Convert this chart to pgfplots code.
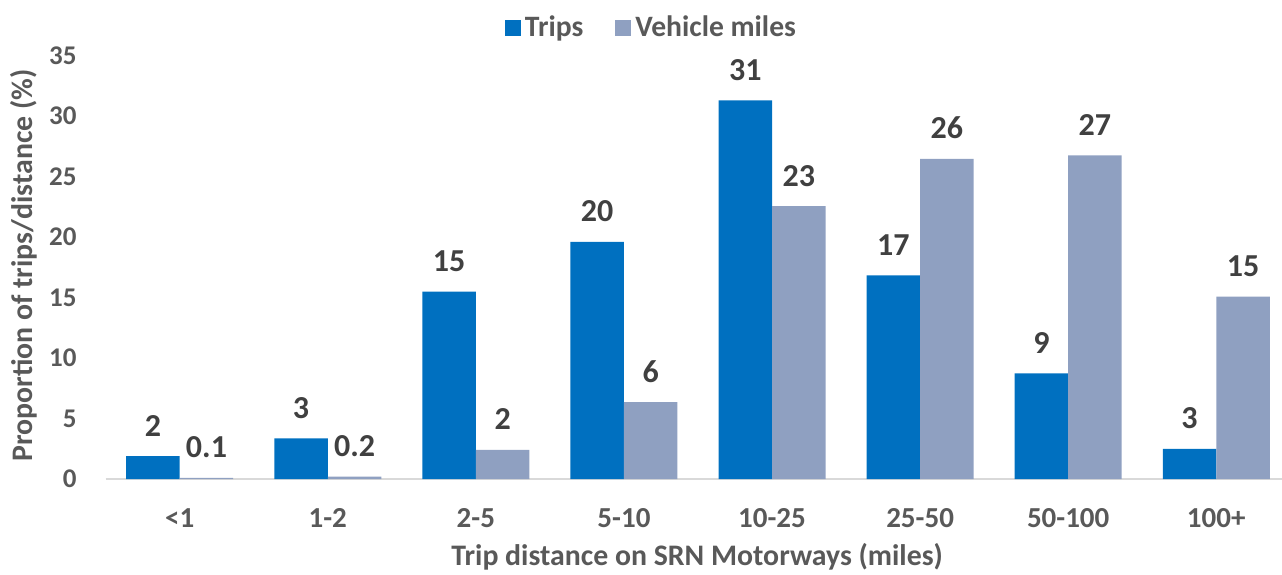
\documentclass[border=0pt]{standalone}
\usepackage{fontspec}
\setmainfont{Carlito}
\usepackage{pgfplots}
\pgfplotsset{compat=1.18}
\definecolor{tripc}{HTML}{0070C0}
\definecolor{vmc}{HTML}{8FA0C1}
\definecolor{tickc}{HTML}{595959}
\definecolor{lblc}{HTML}{404040}
\definecolor{axc}{HTML}{D9D9D9}
\begin{document}
\begin{tikzpicture}[font=\bfseries]
\begin{axis}[
  scale only axis, width=588.15pt, height=211.75pt,
  xmin=-0.5, xmax=7.444, ymin=0, ymax=35,
  axis x line*=bottom, axis y line*=left,
  x axis line style={draw=axc, line width=1pt, -},
  y axis line style={draw=none, -},
  major tick length=0pt,
  xtick={0,...,7},
  xticklabels={{<1},{1-2},{2-5},{5-10},{10-25},{25-50},{50-100},{100+}},
  ytick={0,5,...,35},
  /pgf/number format/assume math mode=true,
  xticklabel style={font=\bfseries\fontsize{14.5}{14.5}\selectfont, text=tickc, anchor=base, inner sep=0pt, yshift=-24pt},
  yticklabel style={font=\bfseries\fontsize{13.5}{13.5}\selectfont, text=tickc, anchor=east, inner sep=0pt, xshift=-14.35pt},
  clip=false,
  ybar=0pt, bar width=26.75pt,
  point meta=explicit symbolic,
  nodes near coords,
  every node near coord/.append style={font=\bfseries\fontsize{16}{16}\selectfont, text=lblc, anchor=base, inner sep=0pt, yshift=10pt},
  legend style={draw=none, fill=none, at={(rel axis cs:0.4648,1.066)}, anchor=center,
    legend columns=2, font=\bfseries\fontsize{14.8}{14.8}\selectfont, text=tickc,
    /tikz/every even column/.append style={column sep=14pt}},
  legend image code/.code={\fill[#1] (0pt,-4pt) rectangle (8pt,4pt);},
]
\addplot[fill=tripc, draw=none] coordinates {
  (0,1.9) [2] (1,3.36) [3] (2,15.48) [15] (3,19.6) [20]
  (4,31.3) [31] (5,16.83) [17] (6,8.73) [9] (7,2.5) [3]};
\addlegendentry{Trips}
\addplot[fill=vmc, draw=none] coordinates {
  (0,0.1) [0.1] (1,0.2) [0.2] (2,2.4) [2] (3,6.36) [6]
  (4,22.56) [23] (5,26.45) [26] (6,26.75) [27] (7,15.07) [15]};
\addlegendentry{Vehicle miles}
\coordinate (bl) at (rel axis cs:0,0);
\node[font=\bfseries\fontsize{14.9}{14.9}\selectfont, text=tickc, anchor=base, inner sep=0pt, yshift=-43pt] at (axis cs:3.494,0) {Trip distance on SRN Motorways (miles)};
\node[font=\bfseries\fontsize{14.9}{14.9}\selectfont, text=tickc, inner sep=0pt, xshift=-36.35pt, rotate=90, anchor=base] at (axis cs:-0.5,17.64) {Proportion of trips/distance (\%)};
\end{axis}
\pgfresetboundingbox
\path (bl) ++(-52.85pt,-47.5pt) rectangle ++(641pt,287pt);
\end{tikzpicture}
\end{document}
